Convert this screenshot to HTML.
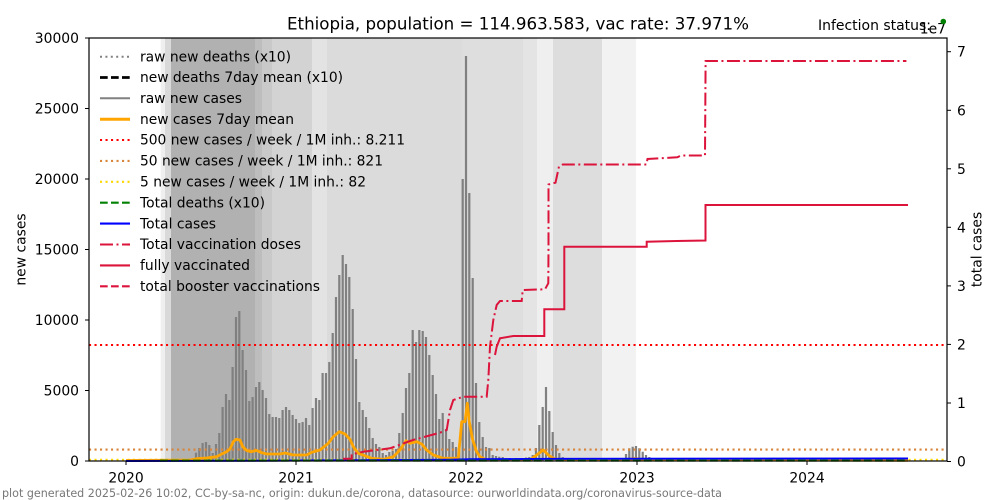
<!DOCTYPE html>
<html>
<head>
<meta charset="utf-8">
<style>
html,body{margin:0;padding:0;background:#fff;}
svg{display:block;}
text{font-family:"DejaVu Sans","Liberation Sans",sans-serif;fill:#000;}
</style>
</head>
<body>
<svg width="1000" height="500" viewBox="0 0 1000 500" xmlns="http://www.w3.org/2000/svg">
<rect x="0" y="0" width="1000" height="500" fill="#fff"/>
<!-- background bands -->
<g>
<rect x="160.7" y="38" width="4.3" height="423" fill="#efefef"/>
<rect x="165" y="38" width="6" height="423" fill="#d9d9d9"/>
<rect x="171" y="38" width="84" height="423" fill="#b1b1b1"/>
<rect x="255" y="38" width="7" height="423" fill="#bdbdbd"/>
<rect x="262" y="38" width="10" height="423" fill="#c9c9c9"/>
<rect x="272" y="38" width="40" height="423" fill="#d3d3d3"/>
<rect x="312" y="38" width="15" height="423" fill="#e3e3e3"/>
<rect x="327" y="38" width="135" height="423" fill="#dbdbdb"/>
<rect x="462" y="38" width="61" height="423" fill="#dedede"/>
<rect x="523" y="38" width="14" height="423" fill="#e4e4e4"/>
<rect x="537" y="38" width="16" height="423" fill="#efefef"/>
<rect x="553" y="38" width="49" height="423" fill="#dddddd"/>
<rect x="602" y="38" width="34" height="423" fill="#f2f2f2"/>
</g>

<!-- bars: raw new cases -->
<path stroke="#808080" stroke-width="2.2" fill="none" d="
M176 461V460M180 461V460M183 461V459.5M186.5 461V459M190 461V458.5
M193.3 461V458M196 461V452.7M199.3 461V448M202.6 461V443M206 461V442M209.3 461V445M212.7 461V453M216 461V444M219.3 461V433M222.6 461V407M226 461V394M229.3 461V400M232.6 461V367M236 461V317M239.3 461V311M242.6 461V350M246 461V370M249.3 461V401M252.6 461V397M256 461V387M259.3 461V382M262.6 461V390M266 461V398M269.3 461V414M272.6 461V417M276 461V417M279.3 461V418M282.6 461V410M286 461V407M289.3 461V410M292.6 461V415M296 461V419M299.3 461V423M302.6 461V422M306 461V418M309.3 461V425M312.6 461V408M316 461V398M319.3 461V400M322.6 461V373M326 461V373M329.3 461V362M332.7 461V333M336 461V297M339.3 461V275M342.7 461V255M346 461V264M349.3 461V277M352.7 461V309M356 461V359M359.3 461V402M362.7 461V410M366 461V417M369.3 461V428M372.7 461V438M376 461V444M379.3 461V447M382.7 461V453M386 461V455
M389.3 461V452M392.7 461V451M396 461V449M399.3 461V433M402.7 461V413M406 461V388M409.3 461V373M412.7 461V330M416 461V342M419.3 461V330M422.7 461V331M426 461V337M429.3 461V355M432.7 461V375M436 461V394M439.3 461V419M442.7 461V413M446 461V429M449.3 461V439M452.7 461V442M456 461V447M459.3 461V448
M462.7 461V179M466 461V56M469.3 461V193M472.7 461V278M476 461V383M479.3 461V422M482.7 461V437M486 461V447M489.3 461V448M492.7 461V455M496 461V456M499.3 461V456.7M502.7 461V457M506 461V458M509.3 461V458M512.7 461V458.5M516 461V458M519.3 461V458.5M522.7 461V458M526 461V457.5M529.3 461V457M532.7 461V455M536 461V448M539.3 461V425M542.7 461V407M546 461V387M549.3 461V411M552.7 461V432M556 461V445M559.3 461V453M562.7 461V457M566 461V458M569.3 461V459M572.7 461V459.5M576 461V459.5M579.3 461V459.5M582.7 461V459.5M586 461V459.5M589.3 461V459.5M592.7 461V459.5M596 461V459.5M599.3 461V459.5M602.7 461V459.5M606 461V459.5M609.3 461V459.5M612.7 461V459.5M616 461V459.5M619.3 461V459M622.7 461V458M626 461V454M629.3 461V448.3M632.7 461V446.7M636 461V446M639.3 461V448.3M642.7 461V451.7M646 461V455M649.3 461V457M652.7 461V459"/>

<!-- threshold dotted lines -->
<line x1="89" y1="345" x2="947" y2="345" stroke="#ff0000" stroke-width="2.1" stroke-dasharray="2.1,3.4"/>
<line x1="89" y1="449.6" x2="947" y2="449.6" stroke="#d9853b" stroke-width="2.1" stroke-dasharray="2.1,3.4"/>
<line x1="89" y1="459.8" x2="947" y2="459.8" stroke="#ffd700" stroke-width="2.1" stroke-dasharray="2.1,3.4"/>

<!-- orange 7day mean -->
<polyline fill="none" stroke="#ffa500" stroke-width="2.8" stroke-linejoin="round" points="126,460.5 190,460 196.7,458.7 206.7,458 216.7,456.7 221.7,454 226.7,451.7 230,449 233.3,441.7 236,439.3 240,440 242.7,446.7 246.7,450.5 250.7,451.7 256.7,450.5 261.7,452.7 266.7,454 280,454 285,453 293.3,455 306.7,455 311.7,452.3 320,450 325,446 328.3,443.3 333.3,436.7 339.3,431.7 345,434 350,439.3 353.3,446.7 358.3,453.3 371.7,458.3 383.3,459.3 393.3,456.7 400,450 406,440.7 410,443.3 416.7,441.7 421.7,444 426.7,450 433.3,455 443.3,458.3 458.3,458.3 461.7,421.7 465,421.7 467.3,403.3 469.3,421.7 472.7,440 476.7,451.7 480,456.7 486.7,460 530,460 536.7,455 543.3,450 548.3,455 553.3,458.3 560,460 625,460 635,458.5 645,460 908,460.3"/>

<!-- total cases blue -->
<polyline fill="none" stroke="#0000ff" stroke-width="2" points="126,461 250,460.8 350,460.3 450,459.8 470,459.3 550,458.9 908,458.5"/>
<!-- total deaths green dashed -->
<line x1="160" y1="460.6" x2="908" y2="460.6" stroke="#008000" stroke-width="2" stroke-dasharray="7.7,3.3"/>

<!-- total vaccination doses (dash-dot) -->
<polyline fill="none" stroke="#dc143c" stroke-width="2" stroke-dasharray="13,3.5,2,3.5" points="343,458.7 351.7,458.7 351.7,454 356.7,453.3 363.3,451.7 390,448.3 413,440 440,432.7 446.7,430 450,410 453.3,400 463.3,396.7 486.7,396.7 488.3,380 490,346.7 493.3,320 496.7,305 500,301 521.7,301 522.7,290 545,289.3 548.3,283.3 548.5,246 548.5,184.5 555.5,182.7 559,166.4 562.7,164.5 646.4,164.5 647.5,159 677.3,157.3 681,155.5 705,155.5 705.6,61 906.4,61"/>
<!-- fully vaccinated -->
<polyline fill="none" stroke="#dc143c" stroke-width="2" points="495,355 496.7,346.7 500,338.3 513.3,336 544.3,336 544.3,309.3 564.3,309.3 564.3,246.7 646.7,246.7 646.7,241.7 676.7,241 705.5,240.5 705.5,205 908,205"/>

<!-- frame -->
<rect x="89" y="38" width="858" height="423" fill="none" stroke="#000" stroke-width="1.2"/>

<!-- left ticks -->
<g stroke="#000" stroke-width="1">
<line x1="85" y1="38" x2="89" y2="38"/>
<line x1="85" y1="108.5" x2="89" y2="108.5"/>
<line x1="85" y1="179" x2="89" y2="179"/>
<line x1="85" y1="249.5" x2="89" y2="249.5"/>
<line x1="85" y1="320" x2="89" y2="320"/>
<line x1="85" y1="390.5" x2="89" y2="390.5"/>
<line x1="85" y1="461" x2="89" y2="461"/>
<!-- right ticks -->
<line x1="947" y1="461.5" x2="951" y2="461.5"/>
<line x1="947" y1="403" x2="951" y2="403"/>
<line x1="947" y1="344.4" x2="951" y2="344.4"/>
<line x1="947" y1="285.9" x2="951" y2="285.9"/>
<line x1="947" y1="227.3" x2="951" y2="227.3"/>
<line x1="947" y1="168.8" x2="951" y2="168.8"/>
<line x1="947" y1="110.3" x2="951" y2="110.3"/>
<line x1="947" y1="51.7" x2="951" y2="51.7"/>
<!-- bottom ticks -->
<line x1="126" y1="461" x2="126" y2="465"/>
<line x1="296" y1="461" x2="296" y2="465"/>
<line x1="466" y1="461" x2="466" y2="465"/>
<line x1="637" y1="461" x2="637" y2="465"/>
<line x1="807" y1="461" x2="807" y2="465"/>
</g>

<!-- left tick labels -->
<g font-size="13.9" text-anchor="end">
<text x="79" y="43">30000</text>
<text x="79" y="113.5">25000</text>
<text x="79" y="184">20000</text>
<text x="79" y="254.5">15000</text>
<text x="79" y="325">10000</text>
<text x="79" y="395.5">5000</text>
<text x="79" y="466">0</text>
</g>
<!-- right tick labels -->
<g font-size="13.9" text-anchor="start">
<text x="957" y="466.5">0</text>
<text x="957" y="408">1</text>
<text x="957" y="349.4">2</text>
<text x="957" y="290.9">3</text>
<text x="957" y="232.3">4</text>
<text x="957" y="173.8">5</text>
<text x="957" y="115.3">6</text>
<text x="957" y="56.7">7</text>
</g>
<!-- bottom tick labels -->
<g font-size="13.9" text-anchor="middle">
<text x="126" y="482.5">2020</text>
<text x="296" y="482.5">2021</text>
<text x="466" y="482.5">2022</text>
<text x="637" y="482.5">2023</text>
<text x="807" y="482.5">2024</text>
</g>

<!-- axis labels -->
<text font-size="13.9" text-anchor="middle" transform="translate(25.5,249.5) rotate(-90)">new cases</text>
<text font-size="13.9" text-anchor="middle" transform="translate(981.5,249.5) rotate(-90)">total cases</text>
<text font-size="13.9" text-anchor="end" x="946" y="33.5">1e7</text>

<!-- title -->
<text font-size="16.7" text-anchor="middle" x="518" y="29.5" textLength="462" lengthAdjust="spacingAndGlyphs">Ethiopia, population = 114.963.583, vac rate: 37.971%</text>
<text font-size="13.9" x="818" y="30" textLength="113" lengthAdjust="spacingAndGlyphs">Infection status: </text>
<circle cx="943.3" cy="21.5" r="2.8" fill="#008000"/>

<!-- legend -->
<g stroke-width="2.1" fill="none">
<line x1="100" y1="56.7" x2="130" y2="56.7" stroke="#808080" stroke-width="2" stroke-dasharray="2,3.4"/>
<line x1="100" y1="77.5" x2="130" y2="77.5" stroke="#000" stroke-width="2.8" stroke-dasharray="7.7,3.3"/>
<line x1="100" y1="98.3" x2="130" y2="98.3" stroke="#808080" stroke-width="2"/>
<line x1="100" y1="119.2" x2="130" y2="119.2" stroke="#ffa500" stroke-width="3"/>
<line x1="100" y1="140" x2="130" y2="140" stroke="#ff0000" stroke-dasharray="2.1,3.4"/>
<line x1="100" y1="160.9" x2="130" y2="160.9" stroke="#d9853b" stroke-dasharray="2.1,3.4"/>
<line x1="100" y1="181.8" x2="130" y2="181.8" stroke="#ffd700" stroke-dasharray="2.1,3.4"/>
<line x1="100" y1="202.7" x2="130" y2="202.7" stroke="#008000" stroke-dasharray="7.7,3.3"/>
<line x1="100" y1="223.6" x2="130" y2="223.6" stroke="#0000ff"/>
<line x1="100" y1="244.5" x2="130" y2="244.5" stroke="#dc143c" stroke-dasharray="13,3.5,2,3.5"/>
<line x1="100" y1="265.4" x2="130" y2="265.4" stroke="#dc143c"/>
<line x1="100" y1="286.3" x2="130" y2="286.3" stroke="#dc143c" stroke-dasharray="7.7,3.3"/>
</g>
<g font-size="13.9">
<text x="140" y="61.3" textLength="151" lengthAdjust="spacingAndGlyphs">raw new deaths (x10)</text>
<text x="140" y="82.1" textLength="203" lengthAdjust="spacingAndGlyphs">new deaths 7day mean (x10)</text>
<text x="140" y="103" textLength="102" lengthAdjust="spacingAndGlyphs">raw new cases</text>
<text x="140" y="123.8" textLength="154" lengthAdjust="spacingAndGlyphs">new cases 7day mean</text>
<text x="140" y="144.7" textLength="265" lengthAdjust="spacingAndGlyphs">500 new cases / week / 1M inh.: 8.211</text>
<text x="140" y="165.6" textLength="243" lengthAdjust="spacingAndGlyphs">50 new cases / week / 1M inh.: 821</text>
<text x="140" y="186.5" textLength="226" lengthAdjust="spacingAndGlyphs">5 new cases / week / 1M inh.: 82</text>
<text x="140" y="207.4" textLength="125" lengthAdjust="spacingAndGlyphs">Total deaths (x10)</text>
<text x="140" y="228.3" textLength="76" lengthAdjust="spacingAndGlyphs">Total cases</text>
<text x="140" y="249.2" textLength="161" lengthAdjust="spacingAndGlyphs">Total vaccination doses</text>
<text x="140" y="270.1" textLength="110" lengthAdjust="spacingAndGlyphs">fully vaccinated</text>
<text x="140" y="291" textLength="180" lengthAdjust="spacingAndGlyphs">total booster vaccinations</text>
</g>

<!-- footer -->
<text font-size="11.1" x="2" y="497" fill="#777" style="fill:#777" textLength="720" lengthAdjust="spacingAndGlyphs">plot generated 2025-02-26 10:02, CC-by-sa-nc, origin: dukun.de/corona, datasource: ourworldindata.org/coronavirus-source-data</text>
</svg>
</body>
</html>
